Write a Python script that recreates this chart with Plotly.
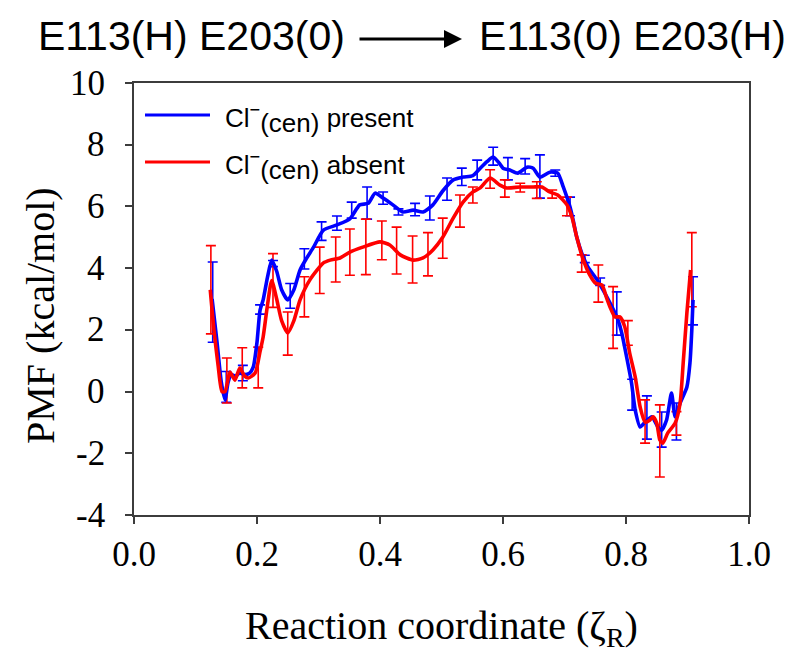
import plotly.graph_objects as go

# ---------------- data ----------------
# PMF curve, Cl-(cen) present (blue)
blue_x = [0.127, 0.135, 0.142, 0.148, 0.153, 0.158, 0.165, 0.172, 0.180, 0.188, 0.194, 0.200,
          0.205, 0.210, 0.217, 0.224, 0.232, 0.240, 0.250, 0.260, 0.270, 0.280, 0.292, 0.308,
          0.330, 0.351, 0.367, 0.381, 0.392, 0.405, 0.421, 0.437, 0.454, 0.470, 0.486, 0.502,
          0.519, 0.535, 0.551, 0.563, 0.574, 0.584, 0.594, 0.600, 0.611, 0.624, 0.639, 0.649,
          0.660, 0.676, 0.689, 0.698, 0.709, 0.714, 0.720, 0.728, 0.738, 0.753, 0.769, 0.782,
          0.787, 0.793, 0.801, 0.809, 0.815, 0.823, 0.831, 0.842, 0.852, 0.858, 0.866, 0.874,
          0.880, 0.888, 0.899, 0.904, 0.907, 0.909]
blue_y = [3.0, 1.6, 0.3, -0.27, 0.3, 0.55, 0.5, 0.6, 0.55, 0.6, 0.8, 1.6,
          2.64, 2.97, 3.7, 4.26, 3.9, 3.3, 2.97, 3.3, 3.94, 4.3, 4.68, 5.23,
          5.4, 5.6, 6.05, 6.1, 6.43, 6.27, 6.05, 5.82, 5.88, 5.82, 6.05, 6.5,
          6.86, 6.95, 7.0, 7.24, 7.45, 7.6, 7.4, 7.24, 7.18, 7.08, 7.27, 7.24,
          6.95, 7.11, 7.08, 6.63, 5.98, 5.56, 5.0, 4.49, 4.04, 3.62, 3.06, 2.55,
          2.32, 1.9, 1.12, 0.28, -0.6, -1.15, -0.99, -0.82, -1.15, -1.25, -0.92, -0.05,
          -0.82, -0.37, 0.15, 0.93, 2.0, 2.97]

# PMF curve, Cl-(cen) absent (red)
red_x = [0.124, 0.130, 0.137, 0.143, 0.148, 0.156, 0.164, 0.172, 0.180, 0.186, 0.197, 0.205,
         0.210, 0.217, 0.224, 0.232, 0.240, 0.250, 0.260, 0.270, 0.286, 0.308, 0.319, 0.335,
         0.351, 0.372, 0.400, 0.416, 0.433, 0.454, 0.470, 0.486, 0.502, 0.519, 0.535, 0.551,
         0.563, 0.579, 0.595, 0.606, 0.628, 0.649, 0.663, 0.676, 0.689, 0.704, 0.712, 0.720,
         0.730, 0.741, 0.750, 0.761, 0.769, 0.774, 0.782, 0.790, 0.798, 0.806, 0.815, 0.823,
         0.831, 0.839, 0.844, 0.850, 0.855, 0.860, 0.868, 0.880, 0.888, 0.893, 0.899, 0.905]
red_y = [3.3, 2.0, 0.8, 0.0, 0.0, 0.63, 0.37, 0.76, 0.5, 0.44, 0.6, 1.3,
         1.77, 2.8, 3.6, 3.0, 2.3, 1.9, 2.3, 2.97, 3.62, 4.17, 4.26, 4.33,
         4.52, 4.68, 4.85, 4.75, 4.43, 4.26, 4.33, 4.59, 5.0, 5.62, 6.14, 6.47,
         6.6, 6.92, 6.69, 6.6, 6.63, 6.63, 6.63, 6.47, 6.37, 6.05, 5.66, 5.0,
         4.3, 3.78, 3.52, 3.45, 3.0, 2.74, 2.42, 2.42, 2.1, 1.25, 0.47, -0.5,
         -0.99, -0.92, -0.82, -1.02, -1.57, -1.67, -1.34, -1.02, -0.37, 0.93, 2.55, 3.94]

# error bars (position, centre, half-width)
blue_err_x = [0.128, 0.150, 0.177, 0.205, 0.226, 0.254, 0.277, 0.305, 0.330, 0.354, 0.379,
              0.405, 0.430, 0.457, 0.481, 0.509, 0.533, 0.558, 0.584, 0.608, 0.636, 0.660,
              0.685, 0.709, 0.733, 0.758, 0.785, 0.810, 0.834, 0.858, 0.882, 0.909]
blue_err_y = [2.9, 0.15, 0.6, 2.66, 4.15, 3.1, 4.3, 5.2, 5.46, 5.88, 6.11,
              6.27, 5.82, 5.9, 5.95, 6.56, 6.96, 7.18, 7.63, 7.22, 7.3, 6.97,
              7.08, 6.0, 4.3, 3.56, 2.53, -0.1, -0.84, -1.23, -0.97, 2.94]
blue_err = [1.3, 0.5, 0.25, 0.15, 0.1, 0.4, 0.33, 0.3, 0.23, 0.26, 0.52,
            0.2, 0.1, 0.2, 0.39, 0.36, 0.28, 0.32, 0.29, 0.36, 0.25, 0.7,
            0.1, 0.3, 0.12, 0.12, 0.7, 0.5, 0.7, 0.57, 0.6, 0.78]

red_err_x = [0.125, 0.151, 0.176, 0.202, 0.226, 0.250, 0.277, 0.302, 0.328, 0.351, 0.377,
             0.403, 0.427, 0.453, 0.478, 0.502, 0.530, 0.551, 0.579, 0.603, 0.628, 0.655,
             0.680, 0.704, 0.728, 0.755, 0.779, 0.803, 0.831, 0.855, 0.882, 0.907]
red_err_y = [3.3, 0.36, 0.77, 0.78, 3.6, 1.88, 3.07, 3.93, 4.28, 4.52, 4.69,
             4.9, 4.57, 4.28, 4.45, 4.97, 5.85, 6.37, 6.89, 6.58, 6.61, 6.53,
             6.4, 6.0, 4.15, 3.5, 2.4, 1.9, -0.97, -1.6, -1.03, 3.95]
red_err = [1.43, 0.73, 0.65, 0.66, 0.87, 0.7, 0.65, 0.75, 0.73, 0.75, 0.9,
           0.63, 0.76, 0.76, 0.7, 0.65, 0.52, 0.26, 0.3, 0.28, 0.14, 0.27,
           0.13, 0.3, 0.28, 0.6, 1.0, 0.4, 0.7, 1.17, 0.38, 1.2]

x_ticks = [0.0, 0.2, 0.4, 0.6, 0.8, 1.0]
y_ticks = [-4, -2, 0, 2, 4, 6, 8, 10]
y_tick_labels = ["-4", "-2", "0", "2", "4", "6", "8", "10"]

series_names = ["Cl<sup>−</sup><sub><span style='font-size:26px'>(cen)</span></sub> present",
                "Cl<sup>−</sup><sub><span style='font-size:26px'>(cen)</span></sub> absent"]
BLUE = "#0000FF"
RED = "#FF0000"
AX = "#3c3c3c"
SERIF = "Liberation Serif, Times New Roman, serif"
SANS = "Liberation Sans, Arial, sans-serif"

fig = go.Figure()

def err_trace(x, y, e, color):
    return go.Scatter(x=x, y=y, mode="markers", showlegend=False, hoverinfo="skip",
                      marker=dict(size=2, color="rgba(0,0,0,0)"),
                      error_y=dict(type="data", array=e, visible=True, color=color,
                                   thickness=1.6, width=5))

fig.add_trace(err_trace(blue_err_x, blue_err_y, blue_err, BLUE))
fig.add_trace(err_trace(red_err_x, red_err_y, red_err, RED))
fig.add_trace(go.Scatter(x=blue_x, y=blue_y, mode="lines", name=series_names[0], showlegend=False,
                         line=dict(color=BLUE, width=3.6, shape="spline", smoothing=0.6)))
fig.add_trace(go.Scatter(x=red_x, y=red_y, mode="lines", name=series_names[1], showlegend=False,
                         line=dict(color=RED, width=3.6, shape="spline", smoothing=0.6)))

L, R, T, B = 134, 43, 83, 149
W, H = 792, 664
pw, ph = W - L - R, H - T - B

def px(xp):
    return (xp - L) / pw

def py(yp):
    return (H - B - yp) / ph

# y tick labels, set a little further from the axis than Plotly's default
for v, lab in zip(y_ticks, y_tick_labels):
    fig.add_annotation(xref="paper", yref="y", x=px(107), y=v, text=lab, showarrow=False,
                       xanchor="right", yanchor="middle",
                       font=dict(family=SERIF, size=35, color="black"))

# manual legend
for i, (col, yy) in enumerate([(BLUE, 115), (RED, 162)]):
    fig.add_shape(type="line", xref="paper", yref="paper", x0=px(145), x1=px(210),
                  y0=py(yy), y1=py(yy), line=dict(color=col, width=3))
    fig.add_annotation(xref="paper", yref="paper", x=px(223), y=py(yy + 4), xanchor="left",
                       yanchor="middle", text=series_names[i], showarrow=False,
                       font=dict(family=SANS, size=26, color="black"))

# header reaction text
fig.add_annotation(xref="paper", yref="paper", x=px(191), y=py(36), text="E113(H) E203(0)",
                   showarrow=False, xanchor="center", yanchor="middle",
                   font=dict(family=SANS, size=41, color="black"))
fig.add_annotation(xref="paper", yref="paper", x=px(632), y=py(36), text="E113(0) E203(H)",
                   showarrow=False, xanchor="center", yanchor="middle",
                   font=dict(family=SANS, size=41, color="black"))
fig.add_annotation(xref="paper", yref="paper", x=px(462), y=py(39), ax=-104, ay=0, text="",
                   showarrow=True, arrowhead=2, arrowsize=1.2, arrowwidth=3, arrowcolor="black",
                   standoff=0, startstandoff=0)

# y-axis title (placed as rotated text)
fig.add_annotation(xref="paper", yref="paper", x=px(40), y=py(316), text="PMF (kcal/mol)",
                   textangle=-90, showarrow=False, xanchor="center", yanchor="middle",
                   font=dict(family=SERIF, size=40, color="black"))

fig.update_layout(
    width=W, height=H, autosize=False,
    margin=dict(l=L, r=R, t=T, b=B, pad=0),
    paper_bgcolor="white", plot_bgcolor="white",
    showlegend=False,
    xaxis=dict(range=[0, 1], tickvals=x_ticks, tickformat=".1f", ticks="outside", ticklen=7,
               tickwidth=2, tickcolor=AX, showline=True, linecolor=AX, linewidth=2, mirror=True,
               showgrid=False, zeroline=False,
               tickfont=dict(family=SERIF, size=35, color="black"),
               title=dict(text="Reaction coordinate (ζ<sub>R</sub>)", standoff=38,
                          font=dict(family=SERIF, size=40, color="black"))),
    yaxis=dict(range=[-4, 10], tickvals=y_ticks, showticklabels=False, ticks="outside",
               ticklen=7, tickwidth=2, tickcolor=AX, showline=True, linecolor=AX, linewidth=2,
               mirror=True, showgrid=False, zeroline=False),
)

fig.write_html("out.html")
